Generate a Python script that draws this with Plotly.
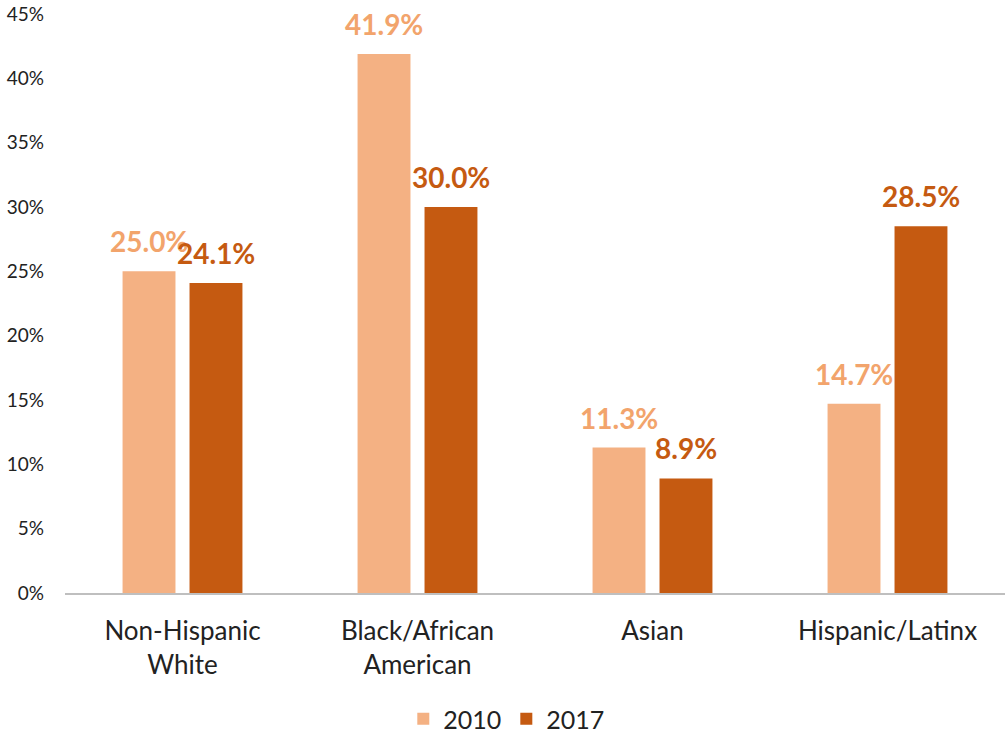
import plotly.graph_objects as go

categories = ["Non-Hispanic<br>White", "Black/African<br>American", "Asian", "Hispanic/Latinx"]
series_names = ["2010", "2017"]
values_2010 = [25.0, 41.9, 11.3, 14.7]
values_2017 = [24.1, 30.0, 8.9, 28.5]
y_ticks = [0, 5, 10, 15, 20, 25, 30, 35, 40, 45]

bar_colors = ["#F4B183", "#C55A11"]
label_colors = ["#F2A46C", "#C55A11"]
FONT = "Lato, 'Open Sans', sans-serif"

fig = go.Figure()
for name, vals, col in zip(series_names, [values_2010, values_2017], bar_colors):
    fig.add_trace(go.Bar(x=categories, y=vals, name=name, marker_color=col,
                         marker_line_width=0))

annotations = []
for i, (vals, lc) in enumerate(zip([values_2010, values_2017], label_colors)):
    shift = -33.5 if i == 0 else 33.5
    for c, v in zip(categories, vals):
        annotations.append(dict(x=c, y=v, text=f"<b>{v:.1f}%</b>", showarrow=False,
                                xref="x", yref="y", xshift=shift, yanchor="bottom",
                                yshift=11, font=dict(family=FONT, size=28, color=lc)))

fig.update_layout(
    width=1006, height=736,
    paper_bgcolor="white", plot_bgcolor="white",
    margin=dict(l=65, r=1, t=14, b=143, autoexpand=False),
    barmode="group", bargap=0.43, bargroupgap=0.21,
    font=dict(family=FONT, color="#222222"),
    annotations=annotations,
    legend=dict(orientation="h", x=0.47, xanchor="center", y=-0.178, yanchor="top",
                font=dict(size=25, color="#222222"), traceorder="normal",
                itemwidth=30),
    xaxis=dict(showline=True, linecolor="#BFBFBF", linewidth=1.5, ticks="",
               tickfont=dict(size=26, color="#222222"), showgrid=False,
               ticklabelstandoff=14, automargin=False),
    yaxis=dict(range=[0, 45], tickvals=y_ticks, ticktext=[f"{t}%" for t in y_ticks],
               showgrid=False, showline=False, zeroline=False, ticks="",
               tickfont=dict(size=19, color="#222222"), ticklabelstandoff=20,
               ticklabeloverflow="allow", automargin=False),
)

fig.write_html("out.html", config={"displayModeBar": False},
               post_script="document.body.style.margin='0';")
